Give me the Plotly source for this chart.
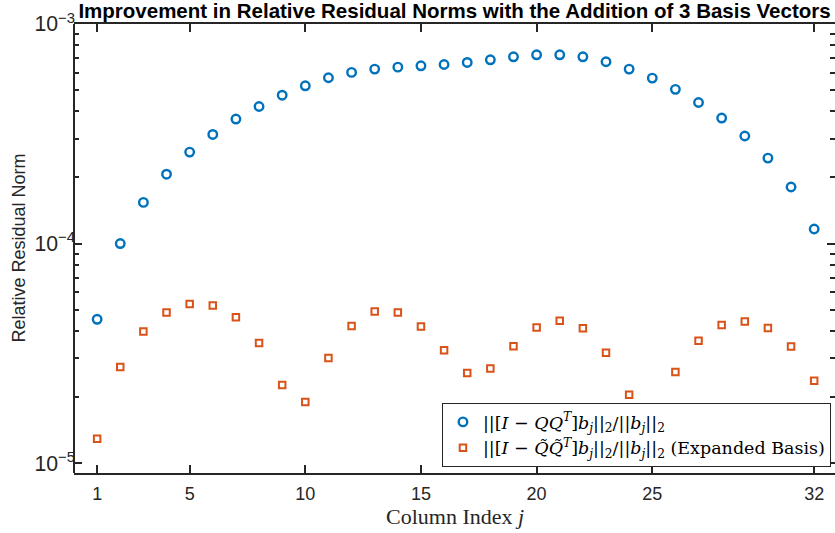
import plotly.graph_objects as go

# Column indices
cols = list(range(1, 33))

# ||[I - QQ^T] b_j||_2 / ||b_j||_2
orig_norms = [4.52e-5, 1.00e-4, 1.54e-4, 2.07e-4, 2.61e-4, 3.14e-4, 3.69e-4, 4.21e-4,
              4.74e-4, 5.23e-4, 5.69e-4, 6.02e-4, 6.23e-4, 6.36e-4, 6.45e-4, 6.54e-4,
              6.68e-4, 6.87e-4, 7.09e-4, 7.24e-4, 7.24e-4, 7.09e-4, 6.73e-4, 6.23e-4,
              5.67e-4, 5.04e-4, 4.39e-4, 3.73e-4, 3.09e-4, 2.45e-4, 1.81e-4, 1.165e-4]

# ||[I - Q~Q~^T] b_j||_2 / ||b_j||_2 (expanded basis)
expanded_norms = [1.29e-5, 2.74e-5, 3.98e-5, 4.85e-5, 5.31e-5, 5.22e-5, 4.62e-5, 3.52e-5,
                  2.27e-5, 1.90e-5, 3.01e-5, 4.21e-5, 4.91e-5, 4.85e-5, 4.19e-5, 3.27e-5,
                  2.57e-5, 2.70e-5, 3.41e-5, 4.15e-5, 4.45e-5, 4.11e-5, 3.18e-5, 2.05e-5,
                  1.72e-5, 2.60e-5, 3.61e-5, 4.26e-5, 4.42e-5, 4.13e-5, 3.40e-5, 2.37e-5]

x_tickvals = [1, 5, 10, 15, 20, 25, 32]

title_text = "Improvement in Relative Residual Norms with the Addition of 3 Basis Vectors"
xlabel = "Column Index <i>j</i>"
ylabel = "Relative Residual Norm"
math1 = ("||[<i>I</i> − <i>QQ</i><sup><i>T</i></sup>]<i>b</i><sub><i>j</i></sub>||<sub>2</sub>"
         "/||<i>b</i><sub><i>j</i></sub>||<sub>2</sub>")
math2 = ("||[<i>I</i> − <i>Q̃Q̃</i><sup><i>T</i></sup>]<i>b</i><sub><i>j</i></sub>||<sub>2</sub>"
         "/||<i>b</i><sub><i>j</i></sub>||<sub>2</sub>")
label1 = math1
label2 = math2 + " (Expanded Basis)"

BLUE = "#0072BD"
ORANGE = "#D95319"
AX = "#262626"

fig = go.Figure()
fig.add_trace(go.Scatter(
    x=cols, y=orig_norms, mode="markers", name=label1,
    marker=dict(symbol="circle-open", size=8.5, color=BLUE, line=dict(width=2.4, color=BLUE)),
))
fig.add_trace(go.Scatter(
    x=cols, y=expanded_norms, mode="markers", name=label2,
    marker=dict(symbol="square-open", size=6.5, color=ORANGE, line=dict(width=2, color=ORANGE)),
))

fig.update_layout(
    width=835, height=533,
    margin=dict(l=74, r=0, t=23.5, b=60, autoexpand=False),
    paper_bgcolor="white", plot_bgcolor="white",
    title=dict(text="<b>" + title_text + "</b>", x=0.5, xref="paper", xanchor="center",
               y=1 - 11 / 533, yref="container", yanchor="middle",
               font=dict(family="Liberation Sans, Arial", size=20.5, color="black")),
    font=dict(family="Liberation Sans, Arial", color=AX),
    showlegend=True,
    legend=dict(x=0.9947, y=0.0133, xanchor="right", yanchor="bottom",
                bgcolor="white", bordercolor=AX, borderwidth=1,
                font=dict(family="DejaVu Serif, Liberation Serif, serif", size=17.5, color="black"),
                tracegroupgap=0, itemwidth=30),
    annotations=[
        dict(text=ylabel, xref="paper", yref="paper", x=-56 / 761, y=0.5,
             xanchor="center", yanchor="middle", textangle=-90, showarrow=False,
             font=dict(family="Liberation Sans, Arial", size=18, color=AX)),
        dict(text=xlabel, xref="paper", yref="paper", x=0.5, y=-44 / 449.5,
             xanchor="center", yanchor="middle", showarrow=False,
             font=dict(family="Liberation Serif, Times New Roman, serif", size=22, color=AX)),
    ],
    shapes=[
        dict(type="line", xref="paper", yref="paper", x0=0, x1=0, y0=0, y1=1,
             line=dict(color=AX, width=2), layer="above"),
    ],
)

fig.update_xaxes(
    range=[0, 32.9], tickvals=x_tickvals, ticktext=[str(v) for v in x_tickvals],
    ticks="inside", ticklen=8, tickwidth=2, tickcolor=AX, ticklabelstandoff=3,
    showline=True, linecolor=AX, linewidth=2, mirror="ticks",
    showgrid=False, zeroline=False, automargin=False,
    tickfont=dict(family="Liberation Sans, Arial", size=18, color=AX),
)
fig.update_yaxes(
    type="log", range=[-5.045, -3], dtick=1, exponentformat="power",
    ticks="inside", ticklen=8, tickwidth=2, tickcolor=AX, ticklabelstandoff=-2,
    minor=dict(ticks="inside", ticklen=5, tickwidth=2, tickcolor=AX, dtick="D1", showgrid=False),
    showline=False, mirror="ticks",
    showgrid=False, zeroline=False, automargin=False,
    tickfont=dict(family="Liberation Sans, Arial", size=17, color=AX),
)

fig.write_html("out.html", config={"displayModeBar": False},
               post_script="document.body.style.margin='0';")
